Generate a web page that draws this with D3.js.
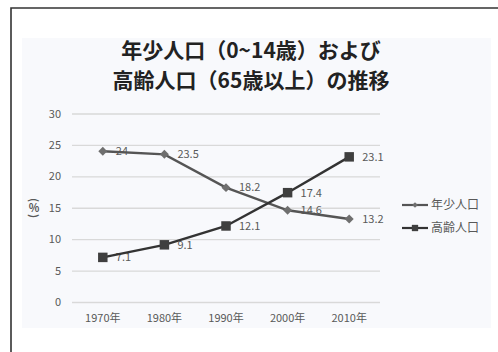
<!DOCTYPE html>
<html>
<head>
<meta charset="utf-8">
<script src="https://cdn.jsdelivr.net/npm/d3@7"></script>
<style>
  html, body { margin: 0; padding: 0; background: #fff; }
  svg text { font-family: "Noto Sans CJK JP", "Noto Sans", sans-serif; }
</style>
</head>
<body>
<div id="chart"></div>
<script>
// data
const years = ['1970年', '1980年', '1990年', '2000年', '2010年'];
const youngValues = [24, 23.5, 18.2, 14.6, 13.2];
const elderlyValues = [7.1, 9.1, 12.1, 17.4, 23.1];
const seriesNames = ['年少人口', '高齢人口'];
const yTicks = [0, 5, 10, 15, 20, 25, 30];
const titleLines = ['年少人口（0~14歳）および', '高齢人口（65歳以上）の推移'];

const W = 498, H = 352;
const margin = {top: 113.5, left: 72, right: 118, bottom: 50};
const width = W - margin.left - margin.right;
const height = 302 - margin.top;

const svg = d3.select('#chart').append('svg')
  .attr('width', W)
  .attr('height', H);

// outer frame (only top and left edges show)
svg.append('path')
  .attr('d', 'M11,' + H + ' V8 H' + W)
  .attr('fill', 'none')
  .attr('stroke', '#333')
  .attr('stroke-width', 1.6);

// pale chart panel
svg.append('rect')
  .attr('x', 22).attr('y', 38)
  .attr('width', 469).attr('height', 290)
  .attr('fill', '#f8f9fc');

// title
svg.selectAll('.title')
  .data(titleLines)
  .enter().append('text')
  .attr('class', 'title')
  .attr('x', 251)
  .attr('y', (d, i) => 58 + i * 30)
  .attr('text-anchor', 'middle')
  .attr('font-size', 21)
  .attr('font-weight', 'bold')
  .attr('fill', '#222')
  .text(d => d);

const g = svg.append('g')
  .attr('transform', 'translate(' + margin.left + ',' + margin.top + ')');

const x = d3.scaleBand().domain(years).range([0, width]);
const y = d3.scaleLinear().domain([0, 30]).range([height, 0]);
const cx = d => x(d) + x.bandwidth() / 2;

// gridlines
g.append('g')
  .call(d3.axisLeft(y).tickValues(yTicks).tickSize(-width).tickFormat(''))
  .call(a => a.select('.domain').remove())
  .call(a => a.selectAll('line').attr('stroke', '#d9d9d9').attr('stroke-width', 1.4));

// y tick labels
g.append('g')
  .call(d3.axisLeft(y).tickValues(yTicks).tickSize(0).tickPadding(11))
  .call(a => a.select('.domain').remove())
  .call(a => a.selectAll('text')
    .attr('font-size', 11)
    .attr('fill', '#595959'));

// x tick labels
g.append('g')
  .attr('transform', 'translate(0,' + height + ')')
  .call(d3.axisBottom(x).tickSize(0).tickPadding(12))
  .call(a => a.select('.domain').remove())
  .call(a => a.selectAll('text')
    .attr('font-size', 11)
    .attr('fill', '#595959'));

// y axis title "(%)" written vertically: brackets turned, % upright
const yTitle = svg.append('g')
  .attr('transform', 'translate(34,208)')
  .attr('fill', '#595959')
  .attr('font-size', 11)
  .attr('font-weight', 'bold');
yTitle.append('text')
  .attr('transform', 'translate(0,-8) rotate(90)')
  .attr('text-anchor', 'middle')
  .attr('dy', '0.35em')
  .text('(');
yTitle.append('text')
  .attr('text-anchor', 'middle')
  .attr('dy', '0.35em')
  .text('%');
yTitle.append('text')
  .attr('transform', 'translate(0,8) rotate(90)')
  .attr('text-anchor', 'middle')
  .attr('dy', '0.35em')
  .text(')');

const series = [
  {name: seriesNames[0], values: youngValues, marker: 'diamond', color: '#555', markerColor: '#6f6f6f'},
  {name: seriesNames[1], values: elderlyValues, marker: 'square', color: '#333', markerColor: '#3f3f3f'},
];

const line = d3.line()
  .x((d, i) => cx(years[i]))
  .y(d => y(d));

const symbolFor = s => s.marker === 'diamond'
  ? d3.symbol().type(d3.symbolSquare).size(40)
  : d3.symbol().type(d3.symbolSquare).size(90);

// data labels (under the lines)
series.forEach(s => {
  g.selectAll(null)
    .data(s.values)
    .enter().append('text')
    .attr('x', (d, i) => cx(years[i]) + 13)
    .attr('y', d => y(d))
    .attr('dy', '0.35em')
    .attr('font-size', 11)
    .attr('fill', '#595959')
    .text(d => d);
});

series.forEach(s => {
  g.append('path')
    .datum(s.values)
    .attr('d', line)
    .attr('fill', 'none')
    .attr('stroke', s.color)
    .attr('stroke-width', 2.4);

  g.selectAll(null)
    .data(s.values)
    .enter().append('path')
    .attr('d', symbolFor(s))
    .attr('transform', (d, i) => 'translate(' + cx(years[i]) + ',' + y(d) + ')' + (s.marker === 'diamond' ? ' rotate(45)' : ''))
    .attr('fill', s.markerColor);
});

// legend
const legend = svg.append('g')
  .attr('transform', 'translate(402,205)');

series.forEach((s, i) => {
  const row = legend.append('g').attr('transform', 'translate(0,' + (i * 23) + ')');
  row.append('line')
    .attr('x1', 0).attr('x2', 26)
    .attr('stroke', s.color)
    .attr('stroke-width', 2.2);
  row.append('path')
    .attr('d', s.marker === 'diamond'
      ? d3.symbol().type(d3.symbolSquare).size(16)()
      : d3.symbol().type(d3.symbolSquare).size(40)())
    .attr('transform', 'translate(13,0)' + (s.marker === 'diamond' ? ' rotate(45)' : ''))
    .attr('fill', s.markerColor);
  row.append('text')
    .attr('x', 29)
    .attr('dy', '0.35em')
    .attr('font-size', 12)
    .attr('fill', '#595959')
    .text(s.name);
});
</script>
</body>
</html>
